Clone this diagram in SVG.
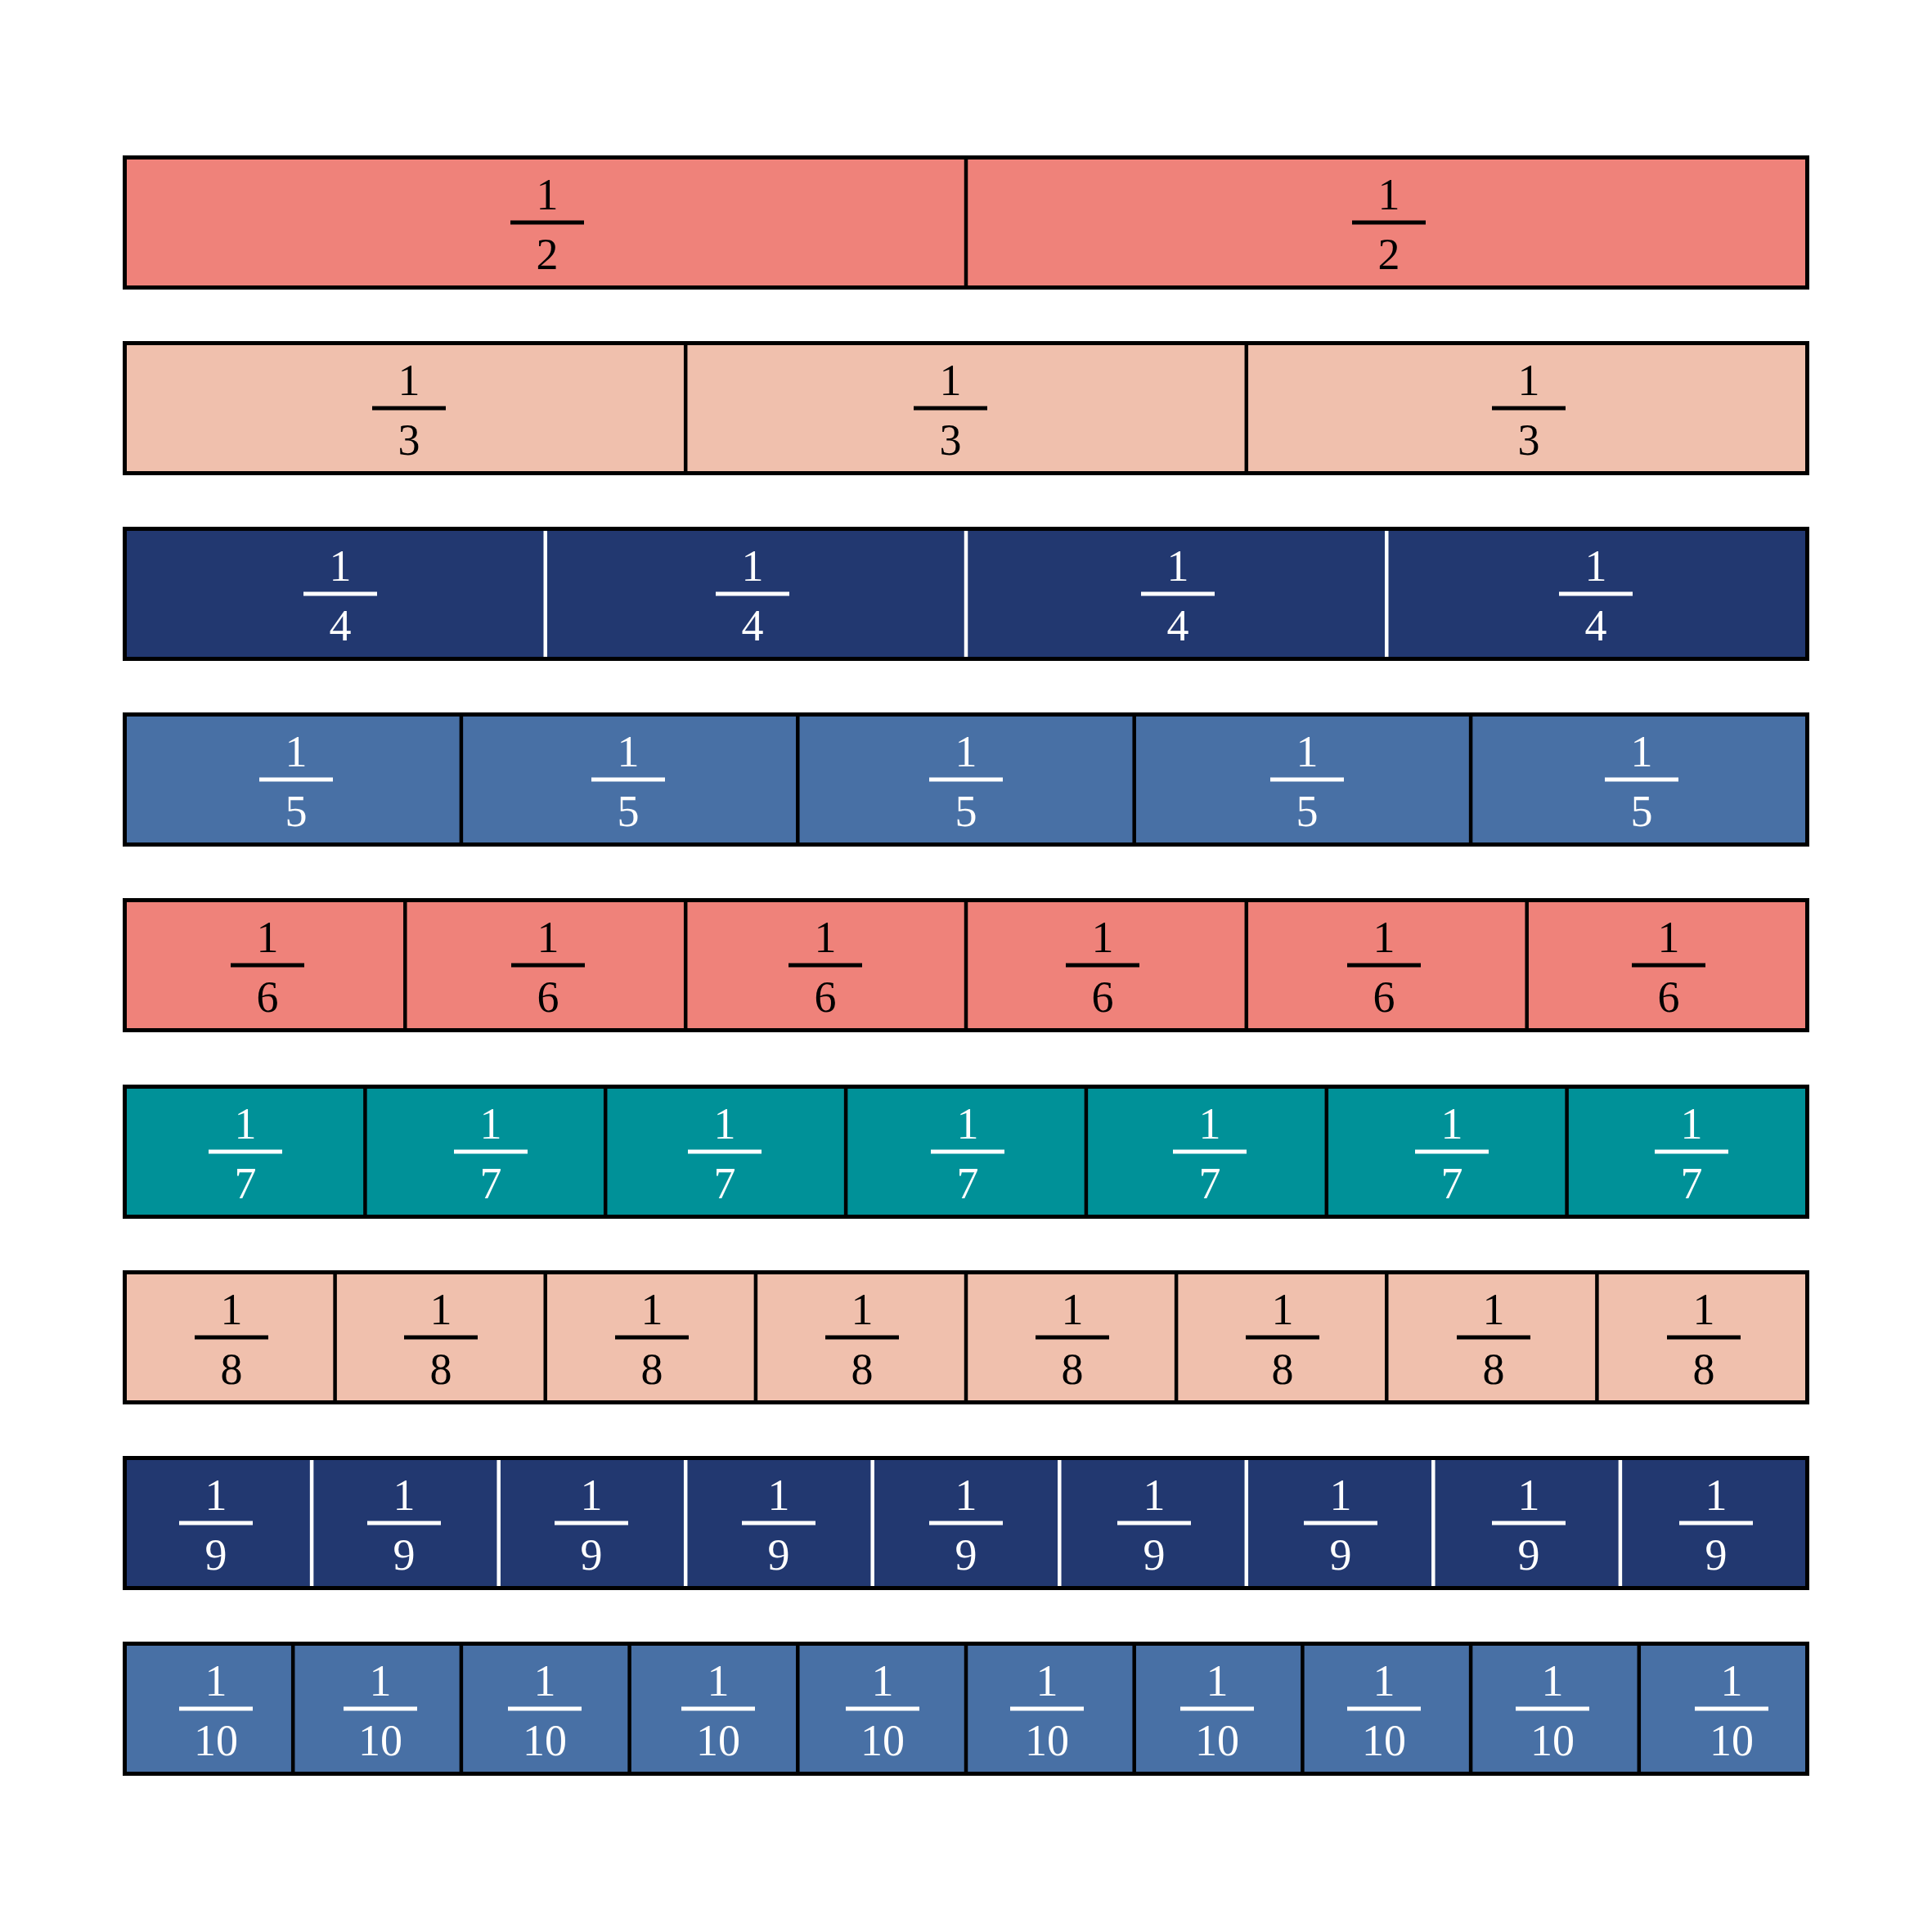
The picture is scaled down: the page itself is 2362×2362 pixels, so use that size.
<svg xmlns="http://www.w3.org/2000/svg" width="2362" height="2362" viewBox="0 0 2362 2362">
<style>
.bg{stroke:none}
.frame{fill:none;stroke:#000;stroke-width:5}
.dk{stroke:#000;stroke-width:4.5}
.dw{stroke:#fff;stroke-width:4.5}
.t{font-family:"Liberation Serif","Times New Roman",serif;font-size:54px;text-anchor:middle}
.lb .t{fill:#000}.lb .bar{stroke:#000}
.lw .t{fill:#fff}.lw .bar{stroke:#fff}
.bar{stroke-width:5}
</style>
<rect width="2362" height="2362" fill="#fff"/>

<!-- Row 1: halves -->
<g id="row-halves" class="lb" transform="translate(0,190)">
<rect class="bg" x="152.5" y="2.5" width="2057" height="159" fill="#EF827A"/>
<line class="dk" x1="1181" x2="1181" y1="2.5" y2="161.5"/>
<rect class="frame" x="152.5" y="2.5" width="2057" height="159"/>
<g id="h1" transform="translate(669,0)"><text class="t" y="66">1</text><line class="bar" x1="-45" x2="45" y1="82" y2="82"/><text class="t" y="139">2</text></g>
<g id="h2" transform="translate(1698,0)"><text class="t" y="66">1</text><line class="bar" x1="-45" x2="45" y1="82" y2="82"/><text class="t" y="139">2</text></g>
</g>

<!-- Row 2: thirds -->
<g id="row-thirds" class="lb" transform="translate(0,417)">
<rect class="bg" x="152.5" y="2.5" width="2057" height="159" fill="#F0C0AD"/>
<line class="dk" x1="838.2" x2="838.2" y1="2.5" y2="161.5"/>
<line class="dk" x1="1523.8" x2="1523.8" y1="2.5" y2="161.5"/>
<rect class="frame" x="152.5" y="2.5" width="2057" height="159"/>
<g id="t1" transform="translate(500,0)"><text class="t" y="66">1</text><line class="bar" x1="-45" x2="45" y1="82" y2="82"/><text class="t" y="139">3</text></g>
<g id="t2" transform="translate(1162,0)"><text class="t" y="66">1</text><line class="bar" x1="-45" x2="45" y1="82" y2="82"/><text class="t" y="139">3</text></g>
<g id="t3" transform="translate(1869,0)"><text class="t" y="66">1</text><line class="bar" x1="-45" x2="45" y1="82" y2="82"/><text class="t" y="139">3</text></g>
</g>

<!-- Row 3: quarters -->
<g id="row-quarters" class="lw" transform="translate(0,644)">
<rect class="bg" x="152.5" y="2.5" width="2057" height="159" fill="#223870"/>
<line class="dw" x1="666.75" x2="666.75" y1="5" y2="159"/>
<line class="dw" x1="1181" x2="1181" y1="5" y2="159"/>
<line class="dw" x1="1695.25" x2="1695.25" y1="5" y2="159"/>
<rect class="frame" x="152.5" y="2.5" width="2057" height="159"/>
<g id="q1" transform="translate(416,0)"><text class="t" y="66">1</text><line class="bar" x1="-45" x2="45" y1="82" y2="82"/><text class="t" y="139">4</text></g>
<g id="q2" transform="translate(920,0)"><text class="t" y="66">1</text><line class="bar" x1="-45" x2="45" y1="82" y2="82"/><text class="t" y="139">4</text></g>
<g id="q3" transform="translate(1440,0)"><text class="t" y="66">1</text><line class="bar" x1="-45" x2="45" y1="82" y2="82"/><text class="t" y="139">4</text></g>
<g id="q4" transform="translate(1951,0)"><text class="t" y="66">1</text><line class="bar" x1="-45" x2="45" y1="82" y2="82"/><text class="t" y="139">4</text></g>
</g>

<!-- Row 4: fifths -->
<g id="row-fifths" class="lw" transform="translate(0,871)">
<rect class="bg" x="152.5" y="2.5" width="2057" height="159" fill="#4870A5"/>
<line class="dk" x1="563.9" x2="563.9" y1="2.5" y2="161.5"/>
<line class="dk" x1="975.3" x2="975.3" y1="2.5" y2="161.5"/>
<line class="dk" x1="1386.7" x2="1386.7" y1="2.5" y2="161.5"/>
<line class="dk" x1="1798.1" x2="1798.1" y1="2.5" y2="161.5"/>
<rect class="frame" x="152.5" y="2.5" width="2057" height="159"/>
<g id="v1" transform="translate(362,0)"><text class="t" y="66">1</text><line class="bar" x1="-45" x2="45" y1="82" y2="82"/><text class="t" y="139">5</text></g>
<g id="v2" transform="translate(768,0)"><text class="t" y="66">1</text><line class="bar" x1="-45" x2="45" y1="82" y2="82"/><text class="t" y="139">5</text></g>
<g id="v3" transform="translate(1181,0)"><text class="t" y="66">1</text><line class="bar" x1="-45" x2="45" y1="82" y2="82"/><text class="t" y="139">5</text></g>
<g id="v4" transform="translate(1598,0)"><text class="t" y="66">1</text><line class="bar" x1="-45" x2="45" y1="82" y2="82"/><text class="t" y="139">5</text></g>
<g id="v5" transform="translate(2007,0)"><text class="t" y="66">1</text><line class="bar" x1="-45" x2="45" y1="82" y2="82"/><text class="t" y="139">5</text></g>
</g>

<!-- Row 5: sixths -->
<g id="row-sixths" class="lb" transform="translate(0,1098)">
<rect class="bg" x="152.5" y="2.5" width="2057" height="159" fill="#EF827A"/>
<line class="dk" x1="495.3" x2="495.3" y1="2.5" y2="161.5"/>
<line class="dk" x1="838.2" x2="838.2" y1="2.5" y2="161.5"/>
<line class="dk" x1="1181" x2="1181" y1="2.5" y2="161.5"/>
<line class="dk" x1="1523.8" x2="1523.8" y1="2.5" y2="161.5"/>
<line class="dk" x1="1866.7" x2="1866.7" y1="2.5" y2="161.5"/>
<rect class="frame" x="152.5" y="2.5" width="2057" height="159"/>
<g id="s1" transform="translate(327,0)"><text class="t" y="66">1</text><line class="bar" x1="-45" x2="45" y1="82" y2="82"/><text class="t" y="139">6</text></g>
<g id="s2" transform="translate(670,0)"><text class="t" y="66">1</text><line class="bar" x1="-45" x2="45" y1="82" y2="82"/><text class="t" y="139">6</text></g>
<g id="s3" transform="translate(1009,0)"><text class="t" y="66">1</text><line class="bar" x1="-45" x2="45" y1="82" y2="82"/><text class="t" y="139">6</text></g>
<g id="s4" transform="translate(1348,0)"><text class="t" y="66">1</text><line class="bar" x1="-45" x2="45" y1="82" y2="82"/><text class="t" y="139">6</text></g>
<g id="s5" transform="translate(1692,0)"><text class="t" y="66">1</text><line class="bar" x1="-45" x2="45" y1="82" y2="82"/><text class="t" y="139">6</text></g>
<g id="s6" transform="translate(2040,0)"><text class="t" y="66">1</text><line class="bar" x1="-45" x2="45" y1="82" y2="82"/><text class="t" y="139">6</text></g>
</g>

<!-- Row 6: sevenths -->
<g id="row-sevenths" class="lw" transform="translate(0,1326)">
<rect class="bg" x="152.5" y="2.5" width="2057" height="159" fill="#009198"/>
<line class="dk" x1="446.4" x2="446.4" y1="2.5" y2="161.5"/>
<line class="dk" x1="740.2" x2="740.2" y1="2.5" y2="161.5"/>
<line class="dk" x1="1034.1" x2="1034.1" y1="2.5" y2="161.5"/>
<line class="dk" x1="1327.9" x2="1327.9" y1="2.5" y2="161.5"/>
<line class="dk" x1="1621.8" x2="1621.8" y1="2.5" y2="161.5"/>
<line class="dk" x1="1915.6" x2="1915.6" y1="2.5" y2="161.5"/>
<rect class="frame" x="152.5" y="2.5" width="2057" height="159"/>
<g id="e1" transform="translate(300,0)"><text class="t" y="66">1</text><line class="bar" x1="-45" x2="45" y1="82" y2="82"/><text class="t" y="139">7</text></g>
<g id="e2" transform="translate(600,0)"><text class="t" y="66">1</text><line class="bar" x1="-45" x2="45" y1="82" y2="82"/><text class="t" y="139">7</text></g>
<g id="e3" transform="translate(886,0)"><text class="t" y="66">1</text><line class="bar" x1="-45" x2="45" y1="82" y2="82"/><text class="t" y="139">7</text></g>
<g id="e4" transform="translate(1183,0)"><text class="t" y="66">1</text><line class="bar" x1="-45" x2="45" y1="82" y2="82"/><text class="t" y="139">7</text></g>
<g id="e5" transform="translate(1479,0)"><text class="t" y="66">1</text><line class="bar" x1="-45" x2="45" y1="82" y2="82"/><text class="t" y="139">7</text></g>
<g id="e6" transform="translate(1775,0)"><text class="t" y="66">1</text><line class="bar" x1="-45" x2="45" y1="82" y2="82"/><text class="t" y="139">7</text></g>
<g id="e7" transform="translate(2068,0)"><text class="t" y="66">1</text><line class="bar" x1="-45" x2="45" y1="82" y2="82"/><text class="t" y="139">7</text></g>
</g>

<!-- Row 7: eighths -->
<g id="row-eighths" class="lb" transform="translate(0,1553)">
<rect class="bg" x="152.5" y="2.5" width="2057" height="159" fill="#F0C0AD"/>
<line class="dk" x1="409.6" x2="409.6" y1="2.5" y2="161.5"/>
<line class="dk" x1="666.75" x2="666.75" y1="2.5" y2="161.5"/>
<line class="dk" x1="923.9" x2="923.9" y1="2.5" y2="161.5"/>
<line class="dk" x1="1181" x2="1181" y1="2.5" y2="161.5"/>
<line class="dk" x1="1438.1" x2="1438.1" y1="2.5" y2="161.5"/>
<line class="dk" x1="1695.25" x2="1695.25" y1="2.5" y2="161.5"/>
<line class="dk" x1="1952.4" x2="1952.4" y1="2.5" y2="161.5"/>
<rect class="frame" x="152.5" y="2.5" width="2057" height="159"/>
<g id="g1" transform="translate(283,0)"><text class="t" y="66">1</text><line class="bar" x1="-45" x2="45" y1="82" y2="82"/><text class="t" y="139">8</text></g>
<g id="g2" transform="translate(539,0)"><text class="t" y="66">1</text><line class="bar" x1="-45" x2="45" y1="82" y2="82"/><text class="t" y="139">8</text></g>
<g id="g3" transform="translate(797,0)"><text class="t" y="66">1</text><line class="bar" x1="-45" x2="45" y1="82" y2="82"/><text class="t" y="139">8</text></g>
<g id="g4" transform="translate(1054,0)"><text class="t" y="66">1</text><line class="bar" x1="-45" x2="45" y1="82" y2="82"/><text class="t" y="139">8</text></g>
<g id="g5" transform="translate(1311,0)"><text class="t" y="66">1</text><line class="bar" x1="-45" x2="45" y1="82" y2="82"/><text class="t" y="139">8</text></g>
<g id="g6" transform="translate(1568,0)"><text class="t" y="66">1</text><line class="bar" x1="-45" x2="45" y1="82" y2="82"/><text class="t" y="139">8</text></g>
<g id="g7" transform="translate(1826,0)"><text class="t" y="66">1</text><line class="bar" x1="-45" x2="45" y1="82" y2="82"/><text class="t" y="139">8</text></g>
<g id="g8" transform="translate(2083,0)"><text class="t" y="66">1</text><line class="bar" x1="-45" x2="45" y1="82" y2="82"/><text class="t" y="139">8</text></g>
</g>

<!-- Row 8: ninths -->
<g id="row-ninths" class="lw" transform="translate(0,1780)">
<rect class="bg" x="152.5" y="2.5" width="2057" height="159" fill="#223870"/>
<line class="dw" x1="381.1" x2="381.1" y1="5" y2="159"/>
<line class="dw" x1="609.7" x2="609.7" y1="5" y2="159"/>
<line class="dw" x1="838.2" x2="838.2" y1="5" y2="159"/>
<line class="dw" x1="1066.7" x2="1066.7" y1="5" y2="159"/>
<line class="dw" x1="1295.3" x2="1295.3" y1="5" y2="159"/>
<line class="dw" x1="1523.8" x2="1523.8" y1="5" y2="159"/>
<line class="dw" x1="1752.3" x2="1752.3" y1="5" y2="159"/>
<line class="dw" x1="1980.9" x2="1980.9" y1="5" y2="159"/>
<rect class="frame" x="152.5" y="2.5" width="2057" height="159"/>
<g id="n1" transform="translate(264,0)"><text class="t" y="66">1</text><line class="bar" x1="-45" x2="45" y1="82" y2="82"/><text class="t" y="139">9</text></g>
<g id="n2" transform="translate(494,0)"><text class="t" y="66">1</text><line class="bar" x1="-45" x2="45" y1="82" y2="82"/><text class="t" y="139">9</text></g>
<g id="n3" transform="translate(723,0)"><text class="t" y="66">1</text><line class="bar" x1="-45" x2="45" y1="82" y2="82"/><text class="t" y="139">9</text></g>
<g id="n4" transform="translate(952,0)"><text class="t" y="66">1</text><line class="bar" x1="-45" x2="45" y1="82" y2="82"/><text class="t" y="139">9</text></g>
<g id="n5" transform="translate(1181,0)"><text class="t" y="66">1</text><line class="bar" x1="-45" x2="45" y1="82" y2="82"/><text class="t" y="139">9</text></g>
<g id="n6" transform="translate(1411,0)"><text class="t" y="66">1</text><line class="bar" x1="-45" x2="45" y1="82" y2="82"/><text class="t" y="139">9</text></g>
<g id="n7" transform="translate(1639,0)"><text class="t" y="66">1</text><line class="bar" x1="-45" x2="45" y1="82" y2="82"/><text class="t" y="139">9</text></g>
<g id="n8" transform="translate(1869,0)"><text class="t" y="66">1</text><line class="bar" x1="-45" x2="45" y1="82" y2="82"/><text class="t" y="139">9</text></g>
<g id="n9" transform="translate(2098,0)"><text class="t" y="66">1</text><line class="bar" x1="-45" x2="45" y1="82" y2="82"/><text class="t" y="139">9</text></g>
</g>

<!-- Row 9: tenths -->
<g id="row-tenths" class="lw" transform="translate(0,2007)">
<rect class="bg" x="152.5" y="2.5" width="2057" height="159" fill="#4870A5"/>
<line class="dk" x1="358.2" x2="358.2" y1="2.5" y2="161.5"/>
<line class="dk" x1="563.9" x2="563.9" y1="2.5" y2="161.5"/>
<line class="dk" x1="769.6" x2="769.6" y1="2.5" y2="161.5"/>
<line class="dk" x1="975.3" x2="975.3" y1="2.5" y2="161.5"/>
<line class="dk" x1="1181" x2="1181" y1="2.5" y2="161.5"/>
<line class="dk" x1="1386.7" x2="1386.7" y1="2.5" y2="161.5"/>
<line class="dk" x1="1592.4" x2="1592.4" y1="2.5" y2="161.5"/>
<line class="dk" x1="1798.1" x2="1798.1" y1="2.5" y2="161.5"/>
<line class="dk" x1="2003.8" x2="2003.8" y1="2.5" y2="161.5"/>
<rect class="frame" x="152.5" y="2.5" width="2057" height="159"/>
<g id="d1" transform="translate(264,0)"><text class="t" y="66">1</text><line class="bar" x1="-45" x2="45" y1="82" y2="82"/><text class="t" y="139">10</text></g>
<g id="d2" transform="translate(465,0)"><text class="t" y="66">1</text><line class="bar" x1="-45" x2="45" y1="82" y2="82"/><text class="t" y="139">10</text></g>
<g id="d3" transform="translate(666,0)"><text class="t" y="66">1</text><line class="bar" x1="-45" x2="45" y1="82" y2="82"/><text class="t" y="139">10</text></g>
<g id="d4" transform="translate(878,0)"><text class="t" y="66">1</text><line class="bar" x1="-45" x2="45" y1="82" y2="82"/><text class="t" y="139">10</text></g>
<g id="d5" transform="translate(1079,0)"><text class="t" y="66">1</text><line class="bar" x1="-45" x2="45" y1="82" y2="82"/><text class="t" y="139">10</text></g>
<g id="d6" transform="translate(1280,0)"><text class="t" y="66">1</text><line class="bar" x1="-45" x2="45" y1="82" y2="82"/><text class="t" y="139">10</text></g>
<g id="d7" transform="translate(1488,0)"><text class="t" y="66">1</text><line class="bar" x1="-45" x2="45" y1="82" y2="82"/><text class="t" y="139">10</text></g>
<g id="d8" transform="translate(1692,0)"><text class="t" y="66">1</text><line class="bar" x1="-45" x2="45" y1="82" y2="82"/><text class="t" y="139">10</text></g>
<g id="d9" transform="translate(1898,0)"><text class="t" y="66">1</text><line class="bar" x1="-45" x2="45" y1="82" y2="82"/><text class="t" y="139">10</text></g>
<g id="d10" transform="translate(2117,0)"><text class="t" y="66">1</text><line class="bar" x1="-45" x2="45" y1="82" y2="82"/><text class="t" y="139">10</text></g>
</g>
</svg>
